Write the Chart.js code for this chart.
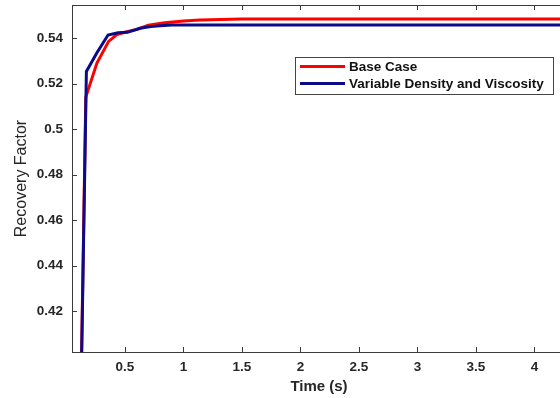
<!DOCTYPE html>
<html>
<head>
<meta charset="utf-8">
<script src="https://cdn.jsdelivr.net/npm/chart.js@4"></script>
<style>
  html, body { margin: 0; padding: 0; background: #fff; overflow: hidden; }
  #wrap { width: 560px; height: 398px; overflow: hidden; position: relative; }
  #wrap canvas { position: absolute; left: 0; top: 0; }
</style>
</head>
<body>
<div id="wrap"><canvas id="rf" width="580" height="398"></canvas></div>
<script>
// recovery factor vs time, two runs
const timeBase = [0, 0.165, 0.26, 0.36, 0.43, 0.5, 0.6, 0.7, 0.84, 1.0, 1.14, 1.5, 2, 3, 4, 4.3];
const rfBase = [0, 0.514, 0.529, 0.5385, 0.5415, 0.5425, 0.5438, 0.5456, 0.5467, 0.5475, 0.5479, 0.5483, 0.5484, 0.5484, 0.5484, 0.5484];

const timeVar = [0, 0.17, 0.26, 0.355, 0.44, 0.52, 0.63, 0.72, 0.8, 0.9, 1.2, 2, 3, 4, 4.3];
const rfVar = [0, 0.5253, 0.5335, 0.5413, 0.5423, 0.5425, 0.5443, 0.5450, 0.5454, 0.5457, 0.5457, 0.5457, 0.5457, 0.5457, 0.5457];

const xTicks = [0.5, 1, 1.5, 2, 2.5, 3, 3.5, 4];
const yTicks = [0.42, 0.44, 0.46, 0.48, 0.5, 0.52, 0.54];

const seriesNames = ['Base Case', 'Variable Density and Viscosity'];
const seriesColors = ['#ff0000', '#0b0b8a'];

const axisColor = '#3a3a3a';
const textColor = '#262626';
const fontFamily = '"Liberation Sans", Arial, Helvetica, sans-serif';

const toPoints = (xs, ys) => xs.map((x, i) => ({ x, y: ys[i] }));

// keep the plot box where we want it: no extra room for edge labels
function noEdgePadding(s) {
  s.paddingTop = 0;
  s.paddingBottom = 0;
  s.paddingLeft = 0;
  s.paddingRight = 0;
}

// inward tick marks, top border line and the boxed legend
const axesDecor = {
  id: 'axesDecor',
  afterDraw(chart) {
    const { ctx, chartArea: a, scales } = chart;
    const len = 5;
    ctx.save();
    ctx.strokeStyle = axisColor;
    ctx.lineWidth = 1;
    ctx.beginPath();
    ctx.moveTo(a.left, a.top + 0.5);
    ctx.lineTo(a.right, a.top + 0.5);
    scales.x.ticks.forEach((t) => {
      const px = Math.round(scales.x.getPixelForValue(t.value)) + 0.5;
      ctx.moveTo(px, a.bottom);
      ctx.lineTo(px, a.bottom - len);
      ctx.moveTo(px, a.top);
      ctx.lineTo(px, a.top + len);
    });
    scales.y.ticks.forEach((t) => {
      const py = Math.round(scales.y.getPixelForValue(t.value)) + 0.5;
      ctx.moveTo(a.left, py);
      ctx.lineTo(a.left + len, py);
    });
    ctx.stroke();

    // legend box
    const bx = 295.5, by = 57.5, bw = 258, bh = 37;
    ctx.fillStyle = '#fff';
    ctx.fillRect(bx, by, bw, bh);
    ctx.strokeStyle = '#444';
    ctx.strokeRect(bx, by, bw, bh);
    ctx.font = 'bold 13.5px ' + fontFamily;
    ctx.textBaseline = 'middle';
    ctx.textAlign = 'left';
    chart.data.datasets.forEach((ds, i) => {
      const ly = 66.5 + i * 17;
      ctx.strokeStyle = ds.borderColor;
      ctx.lineWidth = 3;
      ctx.beginPath();
      ctx.moveTo(300, ly);
      ctx.lineTo(345, ly);
      ctx.stroke();
      ctx.fillStyle = '#111';
      ctx.fillText(ds.label, 349, ly + 0.5);
    });
    ctx.restore();
  }
};

new Chart(document.getElementById('rf'), {
  type: 'line',
  data: {
    datasets: [
      {
        label: seriesNames[0],
        data: toPoints(timeBase, rfBase),
        borderColor: seriesColors[0],
        borderWidth: 3,
        pointRadius: 0,
        tension: 0,
        order: 2,
        clip: 0,
      },
      {
        label: seriesNames[1],
        data: toPoints(timeVar, rfVar),
        borderColor: seriesColors[1],
        borderWidth: 3,
        pointRadius: 0,
        tension: 0,
        order: 1,
        clip: 0,
      },
    ],
  },
  options: {
    responsive: false,
    animation: false,
    events: [],
    layout: { padding: { top: 5, right: 14, left: 0, bottom: 0 } },
    plugins: { legend: { display: false }, tooltip: { enabled: false } },
    scales: {
      x: {
        type: 'linear',
        min: 0.047,
        max: 4.27,
        afterBuildTicks: (axis) => { axis.ticks = xTicks.map((v) => ({ value: v })); },
        afterFit: (s) => { s.height = 46; noEdgePadding(s); },
        grid: { display: false, drawTicks: false },
        border: { display: true, color: axisColor, width: 1 },
        ticks: {
          padding: 7,
          color: textColor,
          font: { family: fontFamily, size: 13.5, weight: 'bold' },
          maxRotation: 0,
          callback: (v) => String(v),
        },
        title: {
          display: true,
          text: 'Time (s)',
          color: textColor,
          font: { family: fontFamily, size: 15, weight: 'bold' },
          padding: { top: 0, bottom: 2 },
        },
      },
      y: {
        type: 'linear',
        min: 0.402,
        max: 0.5545,
        afterBuildTicks: (axis) => { axis.ticks = yTicks.map((v) => ({ value: v })); },
        afterFit: (s) => { s.width = 72; noEdgePadding(s); },
        grid: { display: false, drawTicks: false },
        border: { display: true, color: axisColor, width: 1 },
        ticks: {
          padding: 9,
          color: textColor,
          font: { family: fontFamily, size: 13.5, weight: 'bold' },
          callback: (v) => String(Number(v.toFixed(2))),
        },
        title: {
          display: true,
          text: 'Recovery Factor',
          color: textColor,
          font: { family: fontFamily, size: 16, weight: 'normal' },
          padding: { top: 12, bottom: 0 },
        },
      },
    },
  },
  plugins: [axesDecor],
});
</script>
</body>
</html>
